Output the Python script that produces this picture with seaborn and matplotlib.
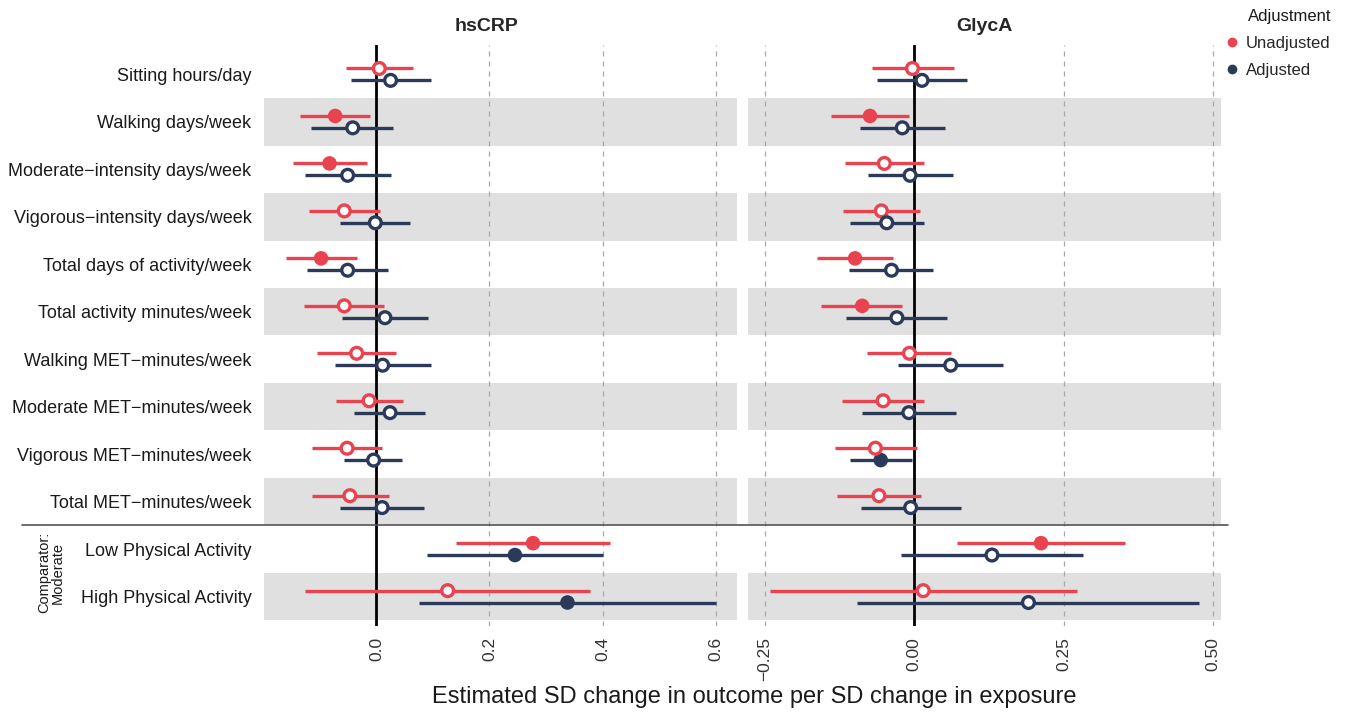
import numpy as np
import pandas as pd
import matplotlib
matplotlib.use("Agg")
import matplotlib.pyplot as plt
import matplotlib.transforms as mtransforms
from matplotlib.lines import Line2D
import seaborn as sns

# ---------------- data ----------------
exposures = [
    "Sitting hours/day",
    "Walking days/week",
    "Moderate\u2212intensity days/week",
    "Vigorous\u2212intensity days/week",
    "Total days of activity/week",
    "Total activity minutes/week",
    "Walking MET\u2212minutes/week",
    "Moderate MET\u2212minutes/week",
    "Vigorous MET\u2212minutes/week",
    "Total MET\u2212minutes/week",
    "Low Physical Activity",
    "High Physical Activity",
]
outcomes = ["hsCRP", "GlycA"]
adjustments = ["Unadjusted", "Adjusted"]

# hsCRP
crp_unadj_est = [0.005, -0.073, -0.083, -0.057, -0.098, -0.057, -0.035, -0.013, -0.052, -0.047, 0.277, 0.126]
crp_unadj_lo  = [-0.054, -0.135, -0.148, -0.120, -0.160, -0.129, -0.105, -0.072, -0.114, -0.114, 0.140, -0.127]
crp_unadj_hi  = [0.065, -0.012, -0.017, 0.007, -0.035, 0.014, 0.035, 0.047, 0.009, 0.022, 0.413, 0.378]
crp_adj_est   = [0.025, -0.042, -0.051, -0.002, -0.051, 0.015, 0.011, 0.024, -0.005, 0.010, 0.245, 0.338]
crp_adj_lo    = [-0.045, -0.115, -0.127, -0.065, -0.123, -0.061, -0.073, -0.039, -0.057, -0.065, 0.089, 0.075]
crp_adj_hi    = [0.096, 0.030, 0.026, 0.060, 0.020, 0.091, 0.096, 0.086, 0.046, 0.084, 0.401, 0.600]

# GlycA
gly_unadj_est = [-0.003, -0.074, -0.050, -0.055, -0.099, -0.087, -0.008, -0.052, -0.065, -0.059, 0.212, 0.015]
gly_unadj_lo  = [-0.070, -0.139, -0.115, -0.119, -0.162, -0.156, -0.079, -0.120, -0.132, -0.130, 0.071, -0.241]
gly_unadj_hi  = [0.066, -0.009, 0.017, 0.009, -0.036, -0.020, 0.062, 0.016, 0.004, 0.012, 0.352, 0.272]
gly_adj_est   = [0.013, -0.020, -0.007, -0.046, -0.038, -0.029, 0.061, -0.009, -0.056, -0.006, 0.130, 0.191]
gly_adj_lo    = [-0.062, -0.090, -0.077, -0.107, -0.109, -0.114, -0.027, -0.087, -0.107, -0.089, -0.022, -0.096]
gly_adj_hi    = [0.088, 0.051, 0.064, 0.016, 0.031, 0.055, 0.148, 0.070, -0.004, 0.079, 0.283, 0.477]

crp_ticks = [0.0, 0.2, 0.4, 0.6]
crp_tick_labels = ["0.0", "0.2", "0.4", "0.6"]
gly_ticks = [-0.25, 0.0, 0.25, 0.50]
gly_tick_labels = ["\u22120.25", "0.00", "0.25", "0.50"]

# ---------------- build table ----------------
rows = []
series = {
    ("hsCRP", "Unadjusted"): (crp_unadj_est, crp_unadj_lo, crp_unadj_hi),
    ("hsCRP", "Adjusted"): (crp_adj_est, crp_adj_lo, crp_adj_hi),
    ("GlycA", "Unadjusted"): (gly_unadj_est, gly_unadj_lo, gly_unadj_hi),
    ("GlycA", "Adjusted"): (gly_adj_est, gly_adj_lo, gly_adj_hi),
}
offsets = {"Unadjusted": -0.125, "Adjusted": 0.125}
for (outc, adj), (est, lo, hi) in series.items():
    for i, name in enumerate(exposures):
        rows.append(dict(outcome=outc, Adjustment=adj, exposure=name,
                         est=est[i], lo=lo[i], hi=hi[i],
                         ypos=i + offsets[adj],
                         sig=(lo[i] > 0) or (hi[i] < 0)))
df = pd.DataFrame(rows)

# ---------------- style ----------------
sns.set_theme(style="white")
plt.rcParams["font.family"] = ["Liberation Sans", "DejaVu Sans"]

palette = {"Unadjusted": "#E8434E", "Adjusted": "#2C3A5A"}

fig = plt.figure(figsize=(13.46, 7.12), dpi=100)
W, H = 1346, 712
bottom = 1 - 626 / H
height = (626 - 45) / H
ax1 = fig.add_axes([264 / W, bottom, 473 / W, height])
ax2 = fig.add_axes([748 / W, bottom, 473 / W, height])

limits = {"hsCRP": (-0.199, 0.638), "GlycA": (-0.278, 0.513)}
ticks = {"hsCRP": (crp_ticks, crp_tick_labels), "GlycA": (gly_ticks, gly_tick_labels)}
title_x = {"hsCRP": 0.471, "GlycA": 0.5}

for ax, outc in zip([ax1, ax2], outcomes):
    sub = df[df.outcome == outc]
    # alternating bands
    for i in range(len(exposures)):
        if i % 2 == 1:
            ax.axhspan(i - 0.5, i + 0.5, color="#E0E0E0", lw=0, zorder=0)
    tv, tl = ticks[outc]
    for t in tv:
        if t != 0:
            ax.axvline(t, color="#A8A8A8", lw=0.9, ls=(0, (4, 4)), zorder=1)
    ax.axvline(0, color="black", lw=2.0, zorder=2)
    # CIs
    for adj in adjustments:
        s = sub[sub.Adjustment == adj]
        ax.hlines(s.ypos, s.lo, s.hi, color=palette[adj], lw=2.4, zorder=3)
    # filled points
    sns.scatterplot(data=sub[sub.sig], x="est", y="ypos", hue="Adjustment",
                    palette=palette, hue_order=adjustments, s=110,
                    linewidth=0, ax=ax, legend=False, zorder=4)
    # open points
    before = len(ax.collections)
    sns.scatterplot(data=sub[~sub.sig], x="est", y="ypos", hue="Adjustment",
                    palette=palette, hue_order=adjustments, s=72,
                    linewidth=2.4, ax=ax, legend=False, zorder=5)
    for coll in ax.collections[before:]:
        fc = coll.get_facecolors()
        coll.set_edgecolors(fc)
        coll.set_facecolor("white")

    ax.set_xlim(*limits[outc])
    ax.set_ylim(len(exposures) - 1 + 0.62, -0.62)
    ax.set_xticks(tv)
    ax.set_xticklabels(tl, rotation=90, fontsize=12.5, color="#333333")
    ax.tick_params(axis="x", length=0, pad=8)
    ax.tick_params(axis="y", length=0)
    ax.set_xlabel("")
    ax.set_ylabel("")
    ax.set_title(outc, fontsize=14, fontweight="bold", pad=10, x=title_x[outc])
    for sp in ax.spines.values():
        sp.set_visible(False)

ax1.set_yticks(range(len(exposures)))
ax1.set_yticklabels(exposures, fontsize=13, color="#1a1a1a")
ax1.tick_params(axis="y", pad=9)
ax2.set_yticks([])

# separator line between the two exposure groups
trans = mtransforms.blended_transform_factory(fig.transFigure, ax1.transData)
fig.add_artist(Line2D([22 / W, 1228 / W], [9.5, 9.5], transform=trans,
                      color="#555555", lw=1.2))

# comparator label
ymid = fig.transFigure.inverted().transform(ax1.transData.transform((0, 10.5)))[1]
fig.text(51 / W, ymid, "Comparator:\nModerate", rotation=90, ha="center",
         va="center", multialignment="center", fontsize=10.5, color="#1a1a1a",
         linespacing=1.0)

# x label
fig.text(754 / W, 1 - 697 / H, "Estimated SD change in outcome per SD change in exposure",
         ha="center", va="center", fontsize=17, color="#1a1a1a")

# legend
fig.text(1248 / W, 1 - 16 / H, "Adjustment", ha="left", va="center",
         fontsize=12, color="#1a1a1a")
handles = [Line2D([], [], marker="o", ls="", color=palette[a], markersize=6)
           for a in adjustments]
leg = fig.legend(handles, adjustments, loc="upper left",
                 bbox_to_anchor=(1222 / W, 1 - 36 / H), frameon=False, fontsize=12,
                 handletextpad=0.25, labelspacing=0.72, handlelength=1.2,
                 borderaxespad=0, borderpad=0)

fig.savefig("out.png", dpi=100, facecolor="white")
